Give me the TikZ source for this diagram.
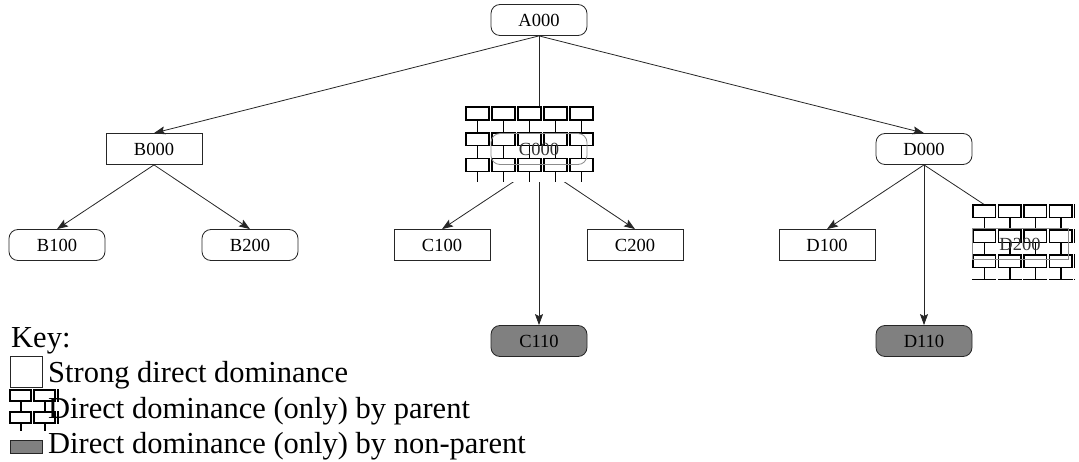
\documentclass[tikz,border=0pt]{standalone}
\usepackage{fontspec}
\setmainfont{Liberation Serif}
\usetikzlibrary{arrows.meta}

% brick field clipped to a box: #1,#2 top-left, #3,#4 bottom-right, #5 course height, #6 brick pitch.
% Even courses are separate bricks with a small gap, odd courses only show the
% staggered joints between the courses above and below.
\newcommand\brickwall[6]{%
  \begin{scope}
    \clip (#1-0.9,#2-0.9) rectangle (#3+0.9,#4);
    \foreach \r in {0,2,4,6}{
      \foreach \c in {0,...,5}{
        \pgfmathsetmacro\bx{#1+\c*#6}
        \pgfmathsetmacro\by{#2+\r*#5}
        \draw[brick] (\bx,\by) rectangle ++(#6-3,#5);
      }
    }
    \foreach \r in {1,3,5,7}{
      \foreach \c in {0,...,5}{
        \pgfmathsetmacro\bx{#1+(\c+0.45)*#6}
        \pgfmathsetmacro\by{#2+\r*#5}
        \draw[brick] (\bx,\by) -- ++(0,#5);
      }
    }
  \end{scope}}

\begin{document}
\begin{tikzpicture}[x=1pt,y=-1pt,
  every node/.style={font=\fontsize{18.5}{20}\selectfont},
  base/.style={draw=black!85,line width=0.8pt,minimum width=96pt,minimum height=31pt,inner sep=0pt},
  rbox/.style={base,rounded corners=9pt},
  sbox/.style={base},
  gbox/.style={rbox,fill=black!50},
  faint/.style={draw=black!45,text=black!80},
  brick/.style={draw=black,line width=1.5pt},
  edge/.style={draw=black!85,line width=0.8pt,-{Stealth[length=11pt,width=8pt,inset=2pt]}},
  keytext/.style={font=\fontsize{30.5}{34}\selectfont,anchor=base west,inner sep=0pt}]
\useasboundingbox (0,0) rectangle (1079,462);

% tree nodes
\node[rbox] (A000) at (539,20) {A000};
\node[sbox] (B000) at (154,149) {B000};
\node[rbox,draw=none] (C000) at (539,149) {\phantom{C000}};
\node[rbox] (D000) at (924,149) {D000};
\node[rbox] (B100) at (57,245) {B100};
\node[rbox] (B200) at (250,245) {B200};
\node[sbox] (C100) at (442,245) {C100};
\node[sbox] (C200) at (635,245) {C200};
\node[sbox] (D100) at (827,245) {D100};
\node[sbox,draw=none] (D200) at (1020,244) {\phantom{D200}};
\node[gbox] (C110) at (539,341) {C110};
\node[gbox] (D110) at (924,341) {D110};

% connectors
\draw[edge] (A000.south) -- (B000.north);
\draw[edge] (A000.south) -- (C000.north);
\draw[edge] (A000.south) -- (D000.north);
\draw[edge] (B000.south) -- (B100.north);
\draw[edge] (B000.south) -- (B200.north);
\draw[edge] (C000.south) -- (C100.north);
\draw[edge] (C000.south) -- (C200.north);
\draw[edge] (C000.south) -- (C110.north);
\draw[edge] (D000.south) -- (D100.north);
\draw[edge] (D000.south) -- (D200.north);
\draw[edge] (D000.south) -- (D110.north);

% walls over the parent-dominated nodes
\fill[white] (466,106) rectangle (593,182);
\fill[white] (972,204) rectangle (1074,280);
\brickwall{466}{107}{593}{182}{12.9}{26}
\brickwall{973}{205}{1074}{280}{12.5}{25.5}
\node[rbox,faint] (C000b) at (C000) {C000};
\node[sbox,faint] (D200b) at (D200) {D200};

% key
\node[keytext] (key) at (11,348) {Key:};
\node[draw=black!85,line width=0.8pt,minimum width=32pt,minimum height=31pt,inner sep=0pt] (k1) at (26,372) {};
\brickwall{10}{390}{58}{430}{11}{24}
\node[draw=black!85,line width=0.8pt,fill=black!50,minimum width=32pt,minimum height=13pt,inner sep=0pt] (k3) at (26,447) {};
\node[keytext] (t1) at (48,382) {Strong direct dominance};
\node[keytext] (t2) at (48,418) {Direct dominance (only) by parent};
\node[keytext] (t3) at (48,453) {Direct dominance (only) by non-parent};
\end{tikzpicture}
\end{document}
